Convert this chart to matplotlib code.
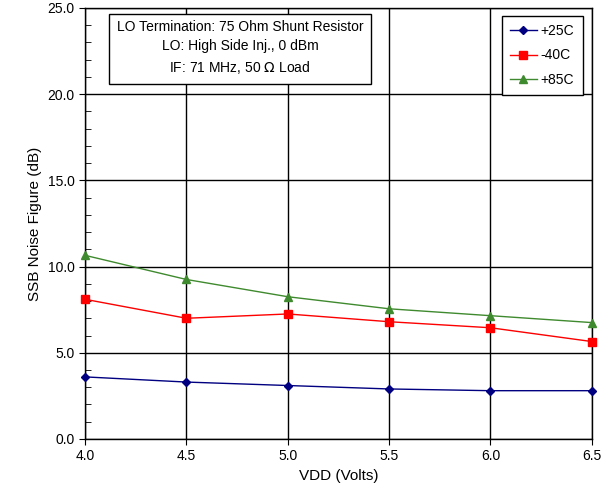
import matplotlib.pyplot as plt
from matplotlib.ticker import MultipleLocator, FormatStrFormatter

plt.rcParams['font.family'] = ['Liberation Sans', 'DejaVu Sans']

vdd = [4.0, 4.5, 5.0, 5.5, 6.0, 6.5]
nf_25c = [3.6, 3.3, 3.1, 2.9, 2.8, 2.8]
nf_m40c = [8.1, 7.0, 7.25, 6.8, 6.45, 5.65]
nf_85c = [10.65, 9.25, 8.25, 7.55, 7.15, 6.75]

fig = plt.figure(figsize=(6.12, 4.96), dpi=100)
ax = fig.add_axes([0.139, 0.115, 0.828, 0.869])

# series
ax.plot(vdd, nf_25c, color='#000080', marker='D', markersize=4, lw=1, label='+25C', clip_on=False, zorder=3)
ax.plot(vdd, nf_m40c, color='#ff0000', marker='s', markersize=6, lw=1, label='-40C', clip_on=False, zorder=3)
ax.plot(vdd, nf_85c, color='#3f8a2e', marker='^', markersize=6, lw=1, label='+85C', clip_on=False, zorder=3)

ax.set_xlim(4.0, 6.5)
ax.set_ylim(0, 25)
ax.xaxis.set_major_locator(MultipleLocator(0.5))
ax.yaxis.set_major_locator(MultipleLocator(5))
ax.yaxis.set_minor_locator(MultipleLocator(1))
ax.xaxis.set_major_formatter(FormatStrFormatter('%.1f'))
ax.yaxis.set_major_formatter(FormatStrFormatter('%.1f'))
ax.tick_params(axis='both', which='major', direction='out', length=4, labelsize=10)
ax.tick_params(axis='y', which='minor', direction='in', length=4)
ax.grid(True, which='major', color='black', lw=1)
ax.set_axisbelow(True)
for s in ax.spines.values():
    s.set_linewidth(1)

ax.set_xlabel('VDD (Volts)', fontsize=11)
ax.set_ylabel('SSB Noise Figure (dB)', fontsize=11)

ax.text(0.306, 0.971,
        'LO Termination: 75 Ohm Shunt Resistor\nLO: High Side Inj., 0 dBm\nIF: 71 MHz, 50 $\\Omega$ Load',
        transform=ax.transAxes, ha='center', va='top', fontsize=10, linespacing=1.45,
        bbox=dict(boxstyle='square,pad=0.55', fc='white', ec='black', lw=1))

leg = ax.legend(loc='upper right', bbox_to_anchor=(0.982, 0.982), fontsize=10,
                fancybox=False, edgecolor='black', framealpha=1,
                handlelength=1.9, handletextpad=0.3, borderpad=0.6,
                labelspacing=0.75, borderaxespad=0)
leg.get_frame().set_linewidth(1)

plt.savefig('out.png')
plt.close(fig)
